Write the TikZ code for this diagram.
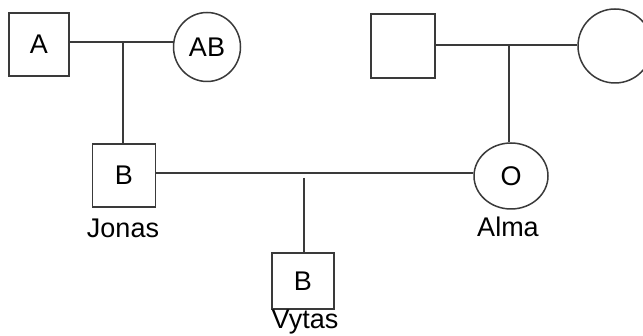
\documentclass[tikz,border=0pt]{standalone}
\usepackage{fontspec}
\setmainfont{Liberation Sans}
\usetikzlibrary{shapes.geometric}
\definecolor{ink}{HTML}{3A3A3A}
\begin{document}
\begin{tikzpicture}[x=1pt,y=-1pt,
  male/.style={draw=ink,line width=1.7pt,rectangle,minimum width=62pt,minimum height=62pt,inner sep=0pt,font=\fontsize{27}{27}\selectfont},
  female/.style={draw=ink,line width=1.5pt,ellipse,minimum width=70pt,minimum height=68pt,inner sep=0pt,font=\fontsize{27}{27}\selectfont},
  link/.style={draw=ink,line width=1.7pt},
  pname/.style={font=\fontsize{27}{27}\selectfont,inner sep=0pt}]
\useasboundingbox (0,0) rectangle (643,336);
\clip (0,0) rectangle (643,336);
\fill[white] (0,0) rectangle (643,336);
\node[male,minimum height=63pt,minimum width=60pt] (A) at (39,44.5) {A};
\node[female,minimum width=67pt,minimum height=69pt] (AB) at (207,47) {AB};
\node[male,minimum width=64pt,minimum height=64pt] (M2) at (403,46) {};
\node[female,minimum width=74pt,minimum height=74pt] (F2) at (615,46) {};
\node[male,minimum width=63pt,minimum height=63pt] (Jonas) at (124,175.5) {B};
\node[female,minimum width=74pt,minimum height=66pt] (Alma) at (511,176) {O};
\node[male,minimum width=62pt,minimum height=56pt] (Vytas) at (303,281) {B};
\node[pname] (nJ) at (123,228) {Jonas};
\node[pname] (nA) at (508,227) {Alma};
\node[pname] (nV) at (305,322) {Vytas};
\coordinate (m1) at (123,42);
\coordinate (m2) at (509,45);
\coordinate (m3) at (304,178);
\draw[link] (A.east |- m1) -- (AB.west |- m1);
\draw[link] (m1) -- (Jonas.north -| m1);
\draw[link] (M2.east |- m2) -- (F2.west |- m2);
\draw[link] (m2) -- (Alma.north -| m2);
\draw[link] (Jonas.east |- 0,173) -- (Alma.west |- 0,173);
\draw[link] (m3) -- (Vytas.north -| m3);
\end{tikzpicture}
\end{document}
